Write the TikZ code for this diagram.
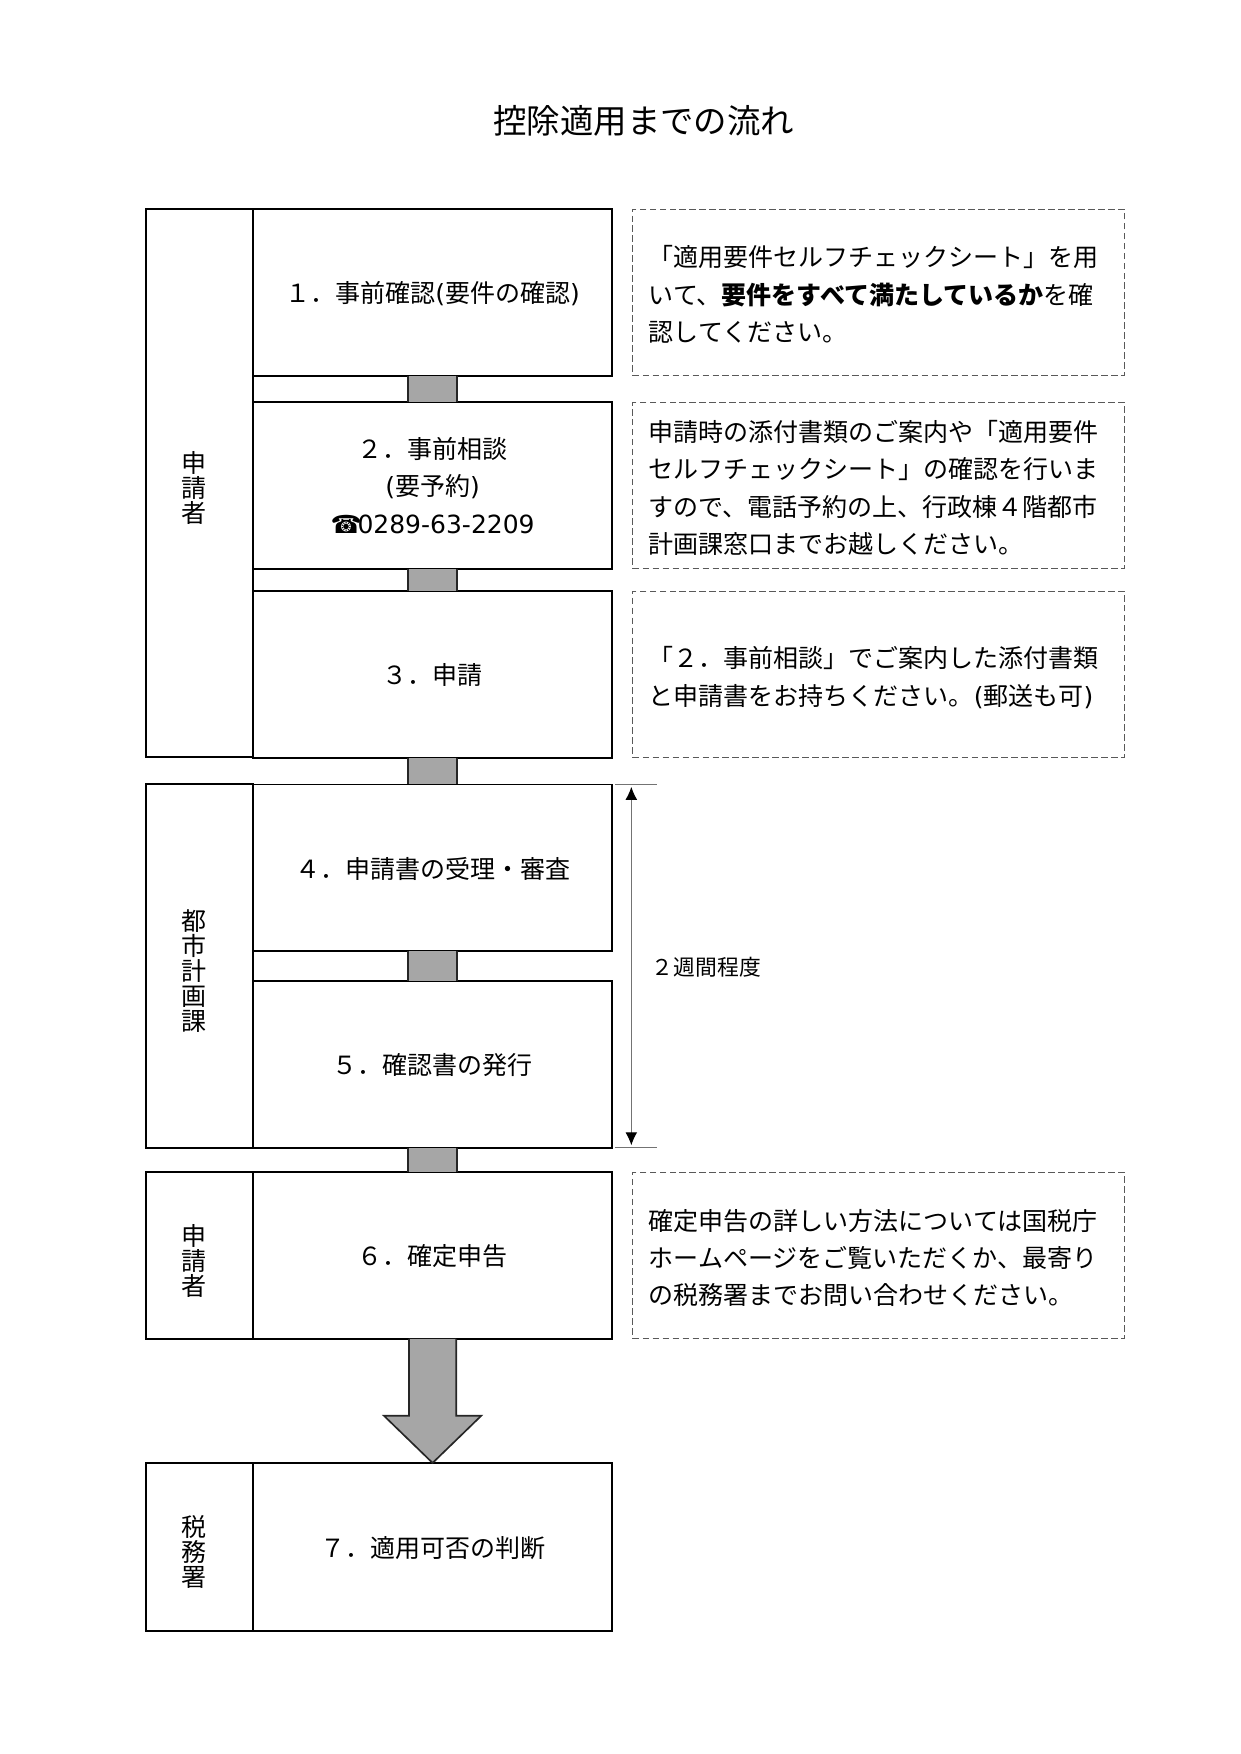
\documentclass[tikz,border=0pt]{standalone}
\usepackage{fontspec}
\setmainfont{Noto Sans CJK JP}
\newfontfamily\latinfont{DejaVu Sans}
\usetikzlibrary{positioning, arrows.meta, calc}

\newcommand{\lat}[1]{{\latinfont #1}}
\newcommand{\bodyfont}{\fontsize{12.05}{18}\selectfont}
\newcommand{\lanefont}{\fontsize{12.05}{12.1}\selectfont\lineskiplimit=-20pt}

\definecolor{barcol}{HTML}{A6A6A6}

\tikzset{
	stepbox/.style={draw, line width=.9pt, outer sep=0, inner sep=0, text width=6.07cm, minimum height=2.82cm, align=center, font=\bodyfont, execute at begin node={\strut}, execute at end node={\strut\par\kern-2.7pt}},
	notebox/.style={draw=black!65, line width=.5pt, dash pattern=on 3.2pt off 1.6pt, outer sep=0, inner xsep=2.7mm, inner ysep=0, text width=7.78cm, minimum height=2.82cm, align=left, font=\bodyfont, execute at begin node={\strut}, execute at end node={\strut\par\kern-4.3pt}},
	lanebox/.style={draw, line width=.95pt, outer sep=0, inner xsep=0, inner ysep=0, minimum width=1.81cm, text width=1.81cm, align=left, font=\lanefont, anchor=north east, execute at begin node={\leftskip=5.9mm}, execute at end node={\par\kern-4.8pt}},
	flowbar/.style={draw=black!85, line width=.8pt, double=barcol, double distance=.8cm},
	spanline/.style={draw=black!55, line width=.5pt},
}

\begin{document}
\begin{tikzpicture}[node distance=3.55mm]
	\useasboundingbox (0,0) rectangle (21,-29.7);
	\node (title) at (10.9,-2.04) {\fontsize{16.1}{20}\selectfont 控除適用までの流れ};

	\node (step1) [stepbox, anchor=north west] at (4.29,-3.54) {１．事前確認\lat{(}要件の確認\lat{)}};
	\node (step2) [stepbox, below=4.54mm of step1] {２．事前相談\\\lat{(}要予約\lat{)}\\\lat{☎\kern-2pt 0289-63-2209}};
	\node (step3) [stepbox, below=3.77mm of step2] {３．申請};
	\node (step4) [stepbox, below=4.52mm of step3] {４．申請書の受理・審査};
	\node (step5) [stepbox, below=5.1mm of step4] {５．確認書の発行};
	\node (step6) [stepbox, below=4.18mm of step5] {６．確定申告};
	\node (step7) [stepbox, below=21mm of step6, minimum height=2.84cm] {７．適用可否の判断};

	\node (lane1) [lanebox, minimum height=9.27cm] at (step1.north west) {申\\請\\者};
	\node (lane2) [lanebox, minimum height=6.15cm] at (step4.north west) {都\\市\\計\\画\\課};
	\node (lane3) [lanebox, minimum height=2.82cm] at (step6.north west) {申\\請\\者};
	\node (lane4) [lanebox, minimum height=2.84cm] at (step7.north west) {税\\務\\署};

	\node (note1) [notebox, right=of step1] {「適用要件セルフチェックシート」を用\\いて、\textbf{要件をすべて満たしているか}を確\\認してください。};
	\node (note2) [notebox, right=of step2] {申請時の添付書類のご案内や「適用要件\\セルフチェックシート」の確認を行いま\\すので、電話予約の上、行政棟４階都市\\計画課窓口までお越しください。};
	\node (note3) [notebox, right=of step3] {「２．事前相談」でご案内した添付書類\\と申請書をお持ちください。\lat{(}郵送も可\lat{)}};
	\node (note6) [notebox, right=of step6] {確定申告の詳しい方法については国税庁\\ホームページをご覧いただくか、最寄り\\の税務署までお問い合わせください。};

	\path
		(step1) edge [flowbar] (step2)
		(step2) edge [flowbar] (step3)
		(step3) edge [flowbar] (step4)
		(step4) edge [flowbar] (step5)
		(step5) edge [flowbar] (step6)
	;
	\draw [fill=barcol, draw=black!85, line width=.8pt, line join=miter]
		($(step6.south)+(-.4,0)$) -- ++(0,-1.3) -- ++(-.425,0) -- (step7.north)
		-- ($(step6.south)+(.825,-1.3)$) -- ++(-.425,0) -- ($(step6.south)+(.4,0)$);

	\coordinate (span1) at ($(step4.north east)+(.05,0)$);
	\coordinate (span2) at ($(step5.south east)+(.05,0)$);
	\draw [spanline] (span1) -- ++(.72,0);
	\draw [spanline] (span2) -- ++(.72,0);
	\coordinate (arrow1) at ($(span1)+(.28,0)$);
	\coordinate (arrow2) at ($(span2)+(.28,0)$);
	\draw [spanline, {Latex[black, length=2.2mm, width=2mm]}-{Latex[black, length=2.2mm, width=2mm]}, shorten >=.4mm, shorten <=.4mm] (arrow1) -- (arrow2);
	\node (period) at (11.96,-16.38) {\fontsize{10.5}{13}\selectfont ２週間程度};
\end{tikzpicture}
\end{document}
